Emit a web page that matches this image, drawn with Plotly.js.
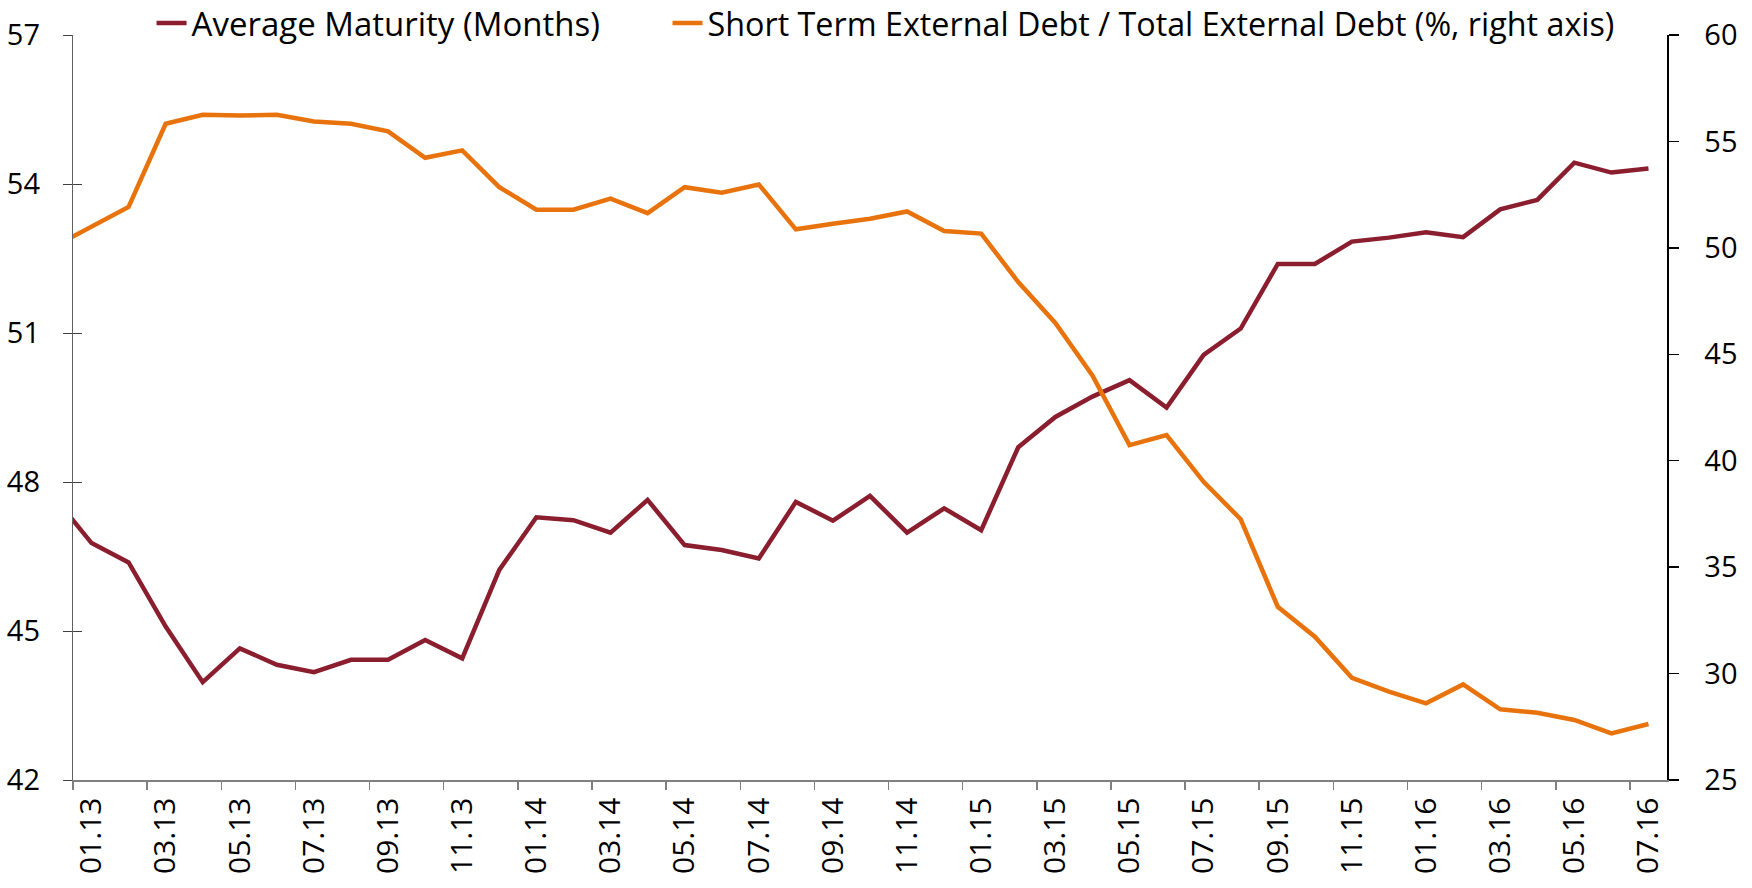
<!DOCTYPE html>
<html><head><meta charset="utf-8">
<script src="https://cdn.plot.ly/plotly-3.0.1.min.js"></script>
<style>html,body{margin:0;padding:0;background:#fff}</style>
</head><body><div id="chart" style="width:1752px;height:888px"></div>
<script>
const months = ['12.12',
  '01.13','02.13','03.13','04.13','05.13','06.13','07.13','08.13','09.13','10.13','11.13','12.13',
  '01.14','02.14','03.14','04.14','05.14','06.14','07.14','08.14','09.14','10.14','11.14','12.14',
  '01.15','02.15','03.15','04.15','05.15','06.15','07.15','08.15','09.15','10.15','11.15','12.15',
  '01.16','02.16','03.16','04.16','05.16','06.16','07.16'];
const avgMaturity = [47.69,
  46.77,46.38,45.09,43.97,44.65,44.32,44.17,44.42,44.42,44.82,44.45,46.23,
  47.29,47.23,46.98,47.64,46.73,46.63,46.46,47.60,47.22,47.72,46.98,47.47,
  47.03,48.70,49.31,49.72,50.05,49.50,50.56,51.09,52.39,52.39,52.84,52.92,
  53.03,52.93,53.49,53.68,54.43,54.23,54.31];
const shortTermShare = [50.07,
  51.01,51.92,55.83,56.25,56.22,56.25,55.94,55.83,55.47,54.23,54.58,52.85,
  51.79,51.79,52.31,51.63,52.85,52.59,52.98,50.87,51.13,51.37,51.71,50.79,
  50.67,48.39,46.47,44.01,40.73,41.20,39.01,37.25,33.14,31.73,29.80,29.15,
  28.60,29.49,28.32,28.16,27.82,27.19,27.63];
const tickLabels = ['01.13','03.13','05.13','07.13','09.13','11.13','01.14','03.14','05.14','07.14','09.14','11.14',
  '01.15','03.15','05.15','07.15','09.15','11.15','01.16','03.16','05.16','07.16'];
const leftTicks = [42,45,48,51,54,57];
const rightTicks = [25,30,35,40,45,50,55,60];
const seriesNames = ['Average Maturity (Months)','Short Term External Debt / Total External Debt (%, right axis)'];

const idx = months.map((m,i)=>i);
const labelPos = tickLabels.map(l=>months.indexOf(l));
const boundaryPos = labelPos.map(p=>p-0.5);
const xRange = [months.indexOf('01.13')-0.5, months.indexOf('07.16')+0.5];

const FONT = 'Open Sans, sans-serif';
const traces = [
  {x: idx, y: avgMaturity, name: seriesNames[0], type:'scatter', mode:'lines',
   line:{color:'#8B1E2E', width:4.5}, xaxis:'x', yaxis:'y', legend:'legend'},
  {x: idx, y: shortTermShare, name: seriesNames[1], type:'scatter', mode:'lines',
   line:{color:'#E8730C', width:4.5}, xaxis:'x', yaxis:'y2', legend:'legend2'}
];
const legendBase = {orientation:'h', xref:'container', yref:'container', y:0.974, yanchor:'middle',
  bgcolor:'rgba(0,0,0,0)'};
const layout = {
  width:1752, height:888,
  margin:{l:73, r:85, t:35, b:108, autoexpand:false},
  paper_bgcolor:'#fff', plot_bgcolor:'#fff',
  font:{family:FONT, color:'#000', size:29},
  showlegend:true,
  legend:Object.assign({}, legendBase, {x:0.0865, font:{family:FONT, size:33, color:'#000'}}),
  legend2:Object.assign({}, legendBase, {x:0.381, font:{family:FONT, size:32.3, color:'#000'}}),
  xaxis:{range:xRange, tickmode:'array', tickvals:labelPos, ticktext:tickLabels, ticks:'',
         tickangle:-90, showline:true, linecolor:'#808080', linewidth:1.5, showgrid:false, zeroline:false,
         tickfont:{family:FONT, size:30, color:'#000'}, ticklabelstandoff:4},
  xaxis2:{range:xRange, overlaying:'x', anchor:'y', side:'bottom', tickmode:'array', tickvals:boundaryPos,
          ticks:'outside', ticklen:9, tickcolor:'#808080', tickwidth:1.5, showticklabels:false,
          showline:false, showgrid:false, zeroline:false},
  yaxis:{range:[42,57], tickmode:'array', tickvals:leftTicks, ticks:'outside', ticklen:9, tickcolor:'#404040',
         showline:true, linecolor:'#606060', linewidth:1.2, showgrid:false, zeroline:false,
         tickfont:{family:FONT, size:29, color:'#000'}, ticklabelstandoff:17},
  yaxis3:{range:[42,57], overlaying:'y', anchor:'x', side:'left', tickmode:'array', tickvals:leftTicks,
          ticks:'inside', ticklen:9, tickcolor:'#404040', showticklabels:false, showline:false,
          showgrid:false, zeroline:false},
  yaxis2:{range:[25,60], overlaying:'y', side:'right', anchor:'x', tickmode:'array', tickvals:rightTicks,
          ticks:'outside', ticklen:10, tickcolor:'#000', tickwidth:1.5, showline:true, linecolor:'#000', linewidth:1.5,
          showgrid:false, zeroline:false, tickfont:{family:FONT, size:29, color:'#000'}, ticklabelstandoff:20}
};
traces.push({x:[], y:[], xaxis:'x2', yaxis:'y', showlegend:false, hoverinfo:'skip', type:'scatter'});
traces.push({x:[], y:[], xaxis:'x', yaxis:'y3', showlegend:false, hoverinfo:'skip', type:'scatter'});
Plotly.newPlot('chart', traces, layout, {displayModeBar:false, staticPlot:true});
</script></body></html>
